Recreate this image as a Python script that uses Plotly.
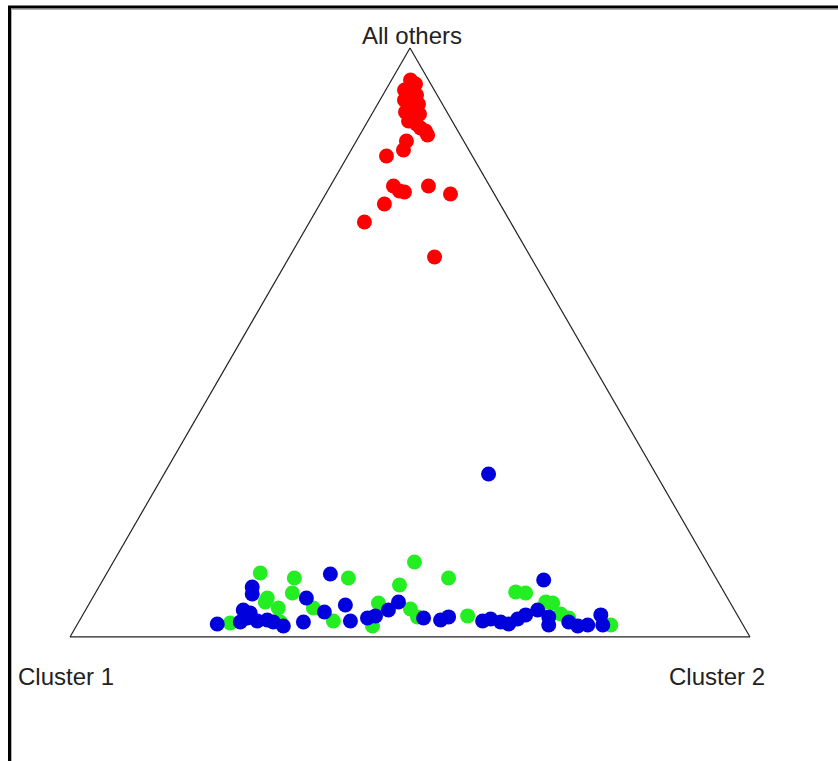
import plotly.graph_objects as go

W, H = 838, 761

# Membership shares for each sample: "All others" (top corner) and
# "Cluster 2" (right corner); the "Cluster 1" share is the remainder.
red_others = [0.9457, 0.9389, 0.9321, 0.9253, 0.9185, 0.9134, 0.9066, 0.8998,
              0.8947, 0.8879, 0.8829, 0.8761, 0.8710, 0.8642, 0.8591, 0.8523,
              0.8421, 0.8268, 0.8166, 0.7657, 0.7572, 0.7555, 0.7657, 0.7521,
              0.7351, 0.7046, 0.6452,
              0.9287, 0.9202, 0.9117, 0.9049, 0.8913, 0.8879, 0.8761, 0.9389]
red_c2 = [0.0279, 0.0328, 0.0333, 0.0396, 0.0386, 0.0470, 0.0474, 0.0494,
          0.0578, 0.0582, 0.0652, 0.0657, 0.0741, 0.0834, 0.0933, 0.0997,
          0.0737, 0.0770, 0.0571, 0.0928, 0.1059, 0.1141, 0.1443, 0.1835,
          0.0948, 0.0807, 0.2135,
          0.0276, 0.0495, 0.0360, 0.0600, 0.0477, 0.0700, 0.0598, 0.0387]

green_others = [0.1087, 0.1002, 0.1002, 0.1273, 0.1002, 0.0747, 0.0662, 0.0492,
                0.0238, 0.0255, 0.0492, 0.0272, 0.0577, 0.0187, 0.0883, 0.0475,
                0.0340, 0.0357, 0.0764, 0.0747, 0.0594, 0.0577, 0.0323, 0.0204,
                0.0594, 0.0390]
green_c2 = [0.2255, 0.2798, 0.3593, 0.4429, 0.5066, 0.2896, 0.2570, 0.2817,
            0.2237, 0.2966, 0.3333, 0.3737, 0.4247, 0.4355, 0.4404, 0.4769,
            0.4940, 0.5669, 0.6172, 0.6327, 0.6699, 0.6810, 0.7173, 0.7851,
            0.2575, 0.7021]

blue_others = [0.2767, 0.1070, 0.0968, 0.0849, 0.0730, 0.0458, 0.0407, 0.0221,
               0.0255, 0.0323, 0.0272, 0.0289, 0.0255, 0.0187, 0.0662, 0.0255,
               0.0424, 0.0543, 0.0272, 0.0323, 0.0357, 0.0458, 0.0594, 0.0323,
               0.0289, 0.0340, 0.0272, 0.0306, 0.0255, 0.0221, 0.0306, 0.0374,
               0.0458, 0.0340, 0.0204, 0.0255, 0.0187, 0.0204, 0.0374, 0.0204]
blue_c2 = [0.4772, 0.3294, 0.6482, 0.2255, 0.2315, 0.2319, 0.2447, 0.2055,
           0.2377, 0.2446, 0.2618, 0.2757, 0.2863, 0.3044, 0.3145, 0.3305,
           0.3529, 0.3778, 0.3988, 0.4213, 0.4314, 0.4454, 0.4534, 0.5038,
           0.5305, 0.5397, 0.5932, 0.6033, 0.6206, 0.6341, 0.6430, 0.6514,
           0.6649, 0.6870, 0.6938, 0.7207, 0.7374, 0.7512, 0.7619, 0.7733]

corner_labels = ["All others", "Cluster 1", "Cluster 2"]


def series(others, c2, color):
    c1 = [1 - a - c for a, c in zip(others, c2)]
    return go.Scatterternary(
        a=others, b=c1, c=c2, mode="markers",
        marker=dict(size=15, color=color, line=dict(width=0)),
        showlegend=False, hoverinfo="skip",
    )


fig = go.Figure()
fig.add_trace(series(red_others, red_c2, "#ff0000"))
fig.add_trace(series(green_others, green_c2, "#22ee22"))
fig.add_trace(series(blue_others, blue_c2, "#0000dd"))

axis = dict(showgrid=False, showticklabels=False, ticks="", showline=True,
            linecolor="#222222", linewidth=1.2, title=dict(text=""))

fig.update_layout(
    width=W, height=H,
    margin=dict(l=0, r=0, t=0, b=0),
    paper_bgcolor="white",
    ternary=dict(
        sum=1,
        bgcolor="white",
        domain=dict(x=[70 / W, 750 / W], y=[1 - 637 / H, 1 - 48 / H]),
        aaxis=axis, baxis=axis, caxis=axis,
    ),
    font=dict(family="Liberation Sans, Arial, sans-serif", size=24,
              color="#222222"),
)

label_pos = [(412, 36), (66, 676), (717, 676)]
for text, (px, py) in zip(corner_labels, label_pos):
    fig.add_annotation(text=text, xref="paper", yref="paper",
                       x=px / W, y=1 - py / H, showarrow=False,
                       xanchor="center", yanchor="middle")

# Window frame along the top and left edges
fig.add_shape(type="path", xref="paper", yref="paper",
              path=f"M {9.5 / W},0 L {9.5 / W},{1 - 7 / H} L 1,{1 - 7 / H}",
              line=dict(color="black", width=3))
fig.add_shape(type="path", xref="paper", yref="paper",
              path=f"M {11.5 / W},0 L {11.5 / W},{1 - 9.5 / H} L 1,{1 - 9.5 / H}",
              line=dict(color="#b0b0b0", width=1))

fig.write_html("out.html")
